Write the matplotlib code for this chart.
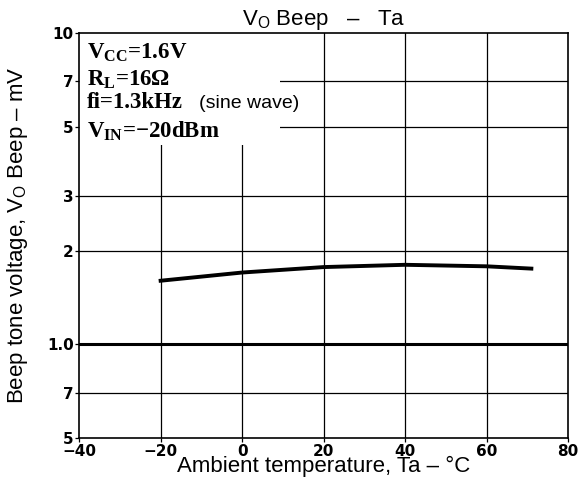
import numpy as np
import matplotlib
matplotlib.use("Agg")
import matplotlib.pyplot as plt
from matplotlib.ticker import FixedLocator, NullLocator

plt.rcParams['mathtext.fontset'] = 'custom'
plt.rcParams['mathtext.rm'] = 'Liberation Serif:bold'
plt.rcParams['mathtext.sf'] = 'Liberation Sans'

# data
temp = [-20, 0, 20, 40, 60, 71]
vo_beep = [1.60, 1.70, 1.77, 1.80, 1.78, 1.75]

x_ticks = [-40, -20, 0, 20, 40, 60, 80]
y_ticks = [0.5, 0.7, 1.0, 2, 3, 5, 7, 10]
y_labels = ['5', '7', '1.0', '2', '3', '5', '7', '10']

fig = plt.figure(figsize=(5.82, 4.84), dpi=100)
ax = fig.add_axes([0.136, 0.095, 0.840, 0.837])
ax.set_yscale('log')
ax.set_xlim(-40, 80)
ax.set_ylim(0.5, 10)
ax.set_axisbelow(False)

# grid
for x in x_ticks[1:-1]:
    ax.axvline(x, color='black', lw=0.9, zorder=1)
for y in y_ticks[1:-1]:
    ax.axhline(y, color='black', lw=2.2 if y == 1.0 else 0.9, zorder=1)

ax.plot(temp, vo_beep, color='black', lw=2.8, zorder=3)

ax.xaxis.set_major_locator(FixedLocator(x_ticks))
ax.set_xticklabels([str(t).replace('-', '\u2212') for t in x_ticks],
                   fontweight='bold', fontsize=11)
ax.yaxis.set_major_locator(FixedLocator(y_ticks))
ax.yaxis.set_minor_locator(NullLocator())
ax.set_yticklabels(y_labels, fontweight='bold', fontsize=11)
ax.tick_params(length=3, width=0.9, pad=1)
for s in ax.spines.values():
    s.set_linewidth(1.2)

# white box behind the conditions text
ax.add_patch(plt.Rectangle((0.0, 0.723), 0.41, 0.277, transform=ax.transAxes,
                           facecolor='white', edgecolor='none', zorder=2))

kw = dict(transform=ax.transAxes, family='Liberation Serif', fontweight='bold',
          fontsize=16.5, va='baseline', ha='left', zorder=4)
ax.text(0.016, 0.938, r'V$_{\mathrm{CC}}$=1.6V', **kw)
ax.text(0.016, 0.872, r'R$_{\mathrm{L}}$=16Ω', **kw)
ax.text(0.016, 0.815, 'fi=1.3kHz', **kw)
ax.text(0.245, 0.815, '(sine wave)', transform=ax.transAxes, family='Liberation Sans',
        fontsize=14, va='baseline', ha='left', zorder=4)
ax.text(0.016, 0.743, r'V$_{\mathrm{IN}}$=$-$20dBm', **kw)

ax.set_title(r'V$_{\mathsf{O}}$ Beep   –   Ta', family='Liberation Sans',
             fontsize=16, pad=6)
ax.set_xlabel('Ambient temperature, Ta – °C', family='Liberation Sans',
              fontsize=16, labelpad=-2)
ax.set_ylabel(r'Beep tone voltage, V$_{\mathsf{O}}$ Beep – mV', family='Liberation Sans',
              fontsize=16, labelpad=12)

fig.savefig('out.png', dpi=100)
